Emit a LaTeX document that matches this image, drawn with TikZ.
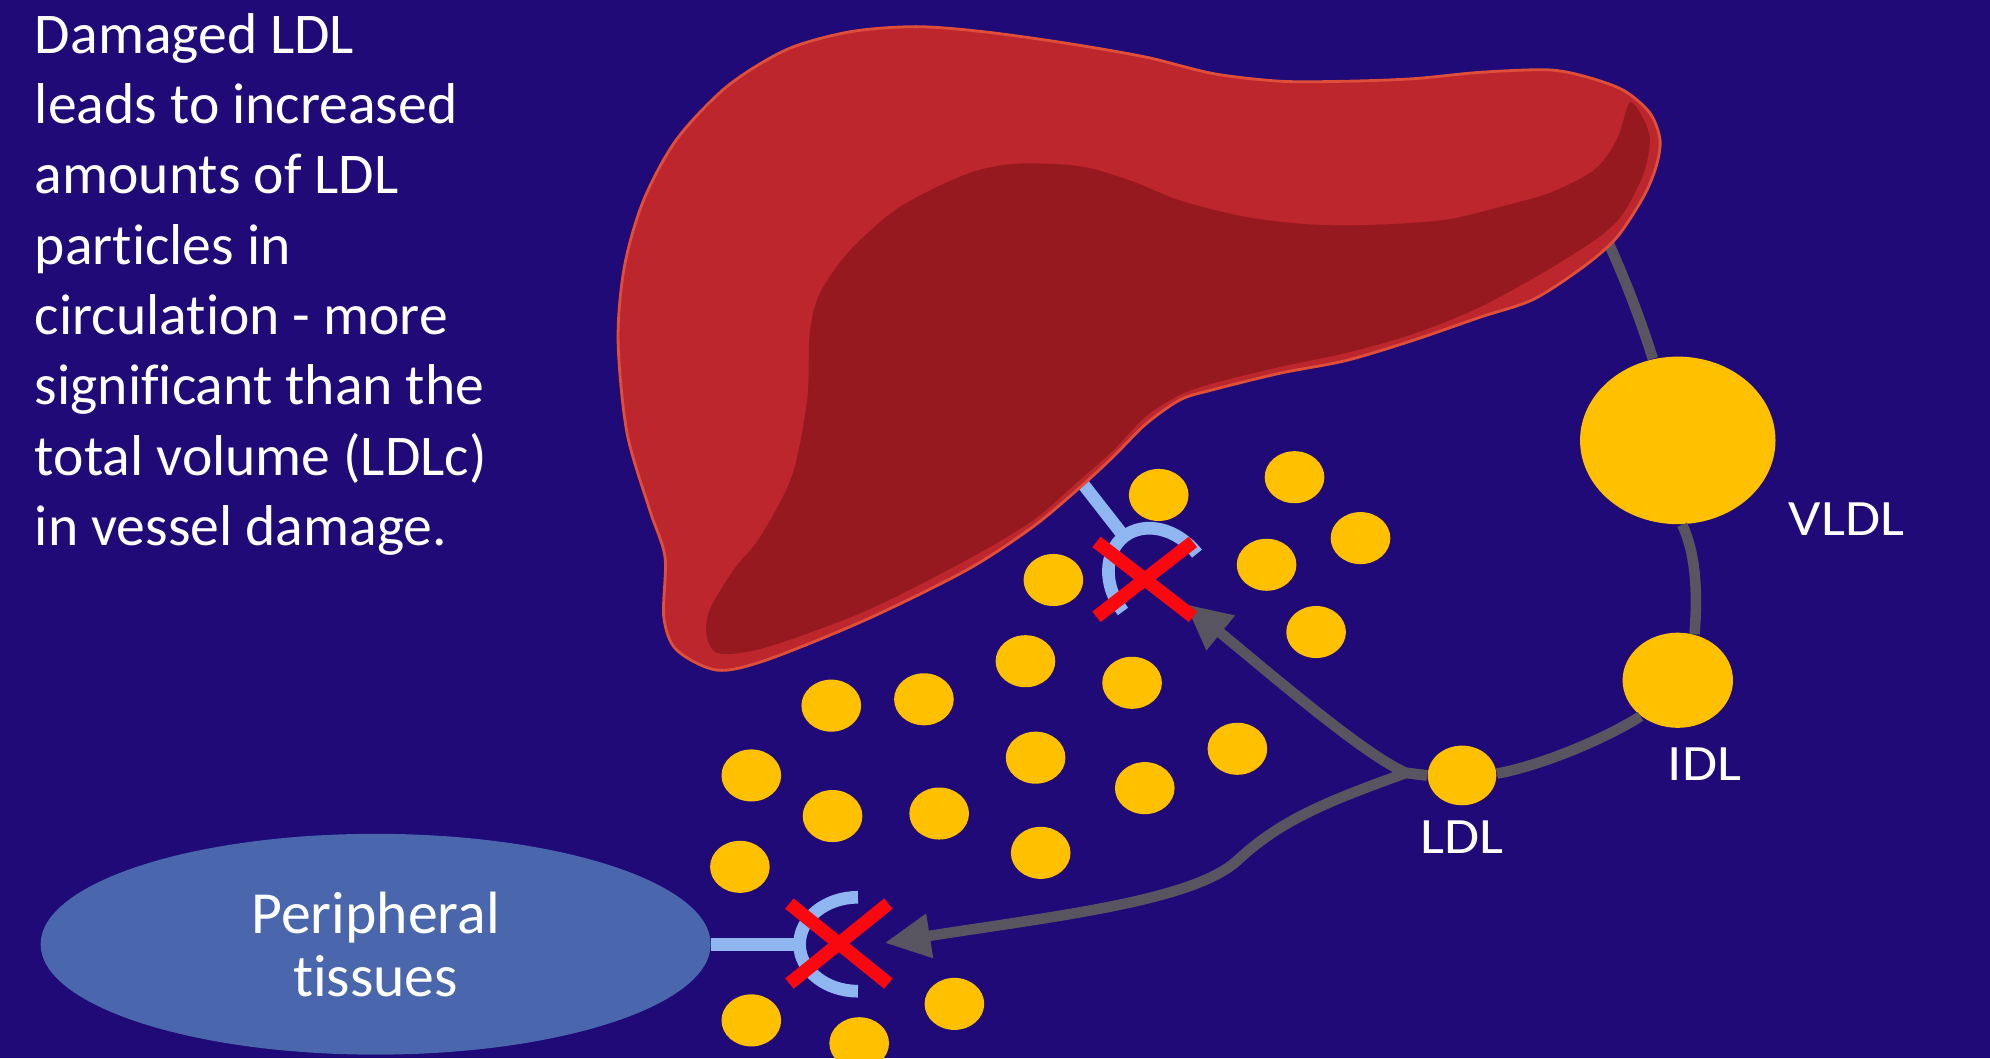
\documentclass[tikz,border=0pt]{standalone}
\usepackage{fontspec}
\setmainfont{Carlito}[Ligatures=NoCommon]
\usetikzlibrary{arrows.meta,shapes.geometric}

\definecolor{slide}{RGB}{31,10,120}
\definecolor{liverlight}{RGB}{190,38,46}
\definecolor{liverdark}{RGB}{150,25,32}
\definecolor{liverrim}{RGB}{222,78,56}
\definecolor{lipid}{RGB}{255,192,0}
\definecolor{pathway}{RGB}{88,84,96}
\definecolor{receptorblue}{RGB}{143,182,240}
\definecolor{tissue}{RGB}{74,102,172}
\definecolor{block}{RGB}{250,8,16}

% one drawing unit
\def\pix{0.01269cm}

\tikzset{
  particle/.style={ellipse, fill=lipid, inner sep=0pt},
  flow/.style={draw=pathway, line width=3pt},
  flowarrow/.style={flow, -{Triangle[length=13pt,width=12pt]}},
  lbl/.style={text=white, font=\fontsize{14.5}{17}\selectfont, xscale=1.12, inner sep=0pt},
  receptor/.style={draw=receptorblue, line width=3.6pt},
  blocked/.style={draw=block, line width=3.8pt},
}

\begin{document}
\begin{tikzpicture}[x=\pix, y=-\pix]
    \fill[slide] (0,0) rectangle (1568,834);
    \useasboundingbox (0,0) rectangle (1568,834);

    % lipoprotein particles
    \node[particle, minimum width=154*\pix, minimum height=132*\pix] (vldl) at (1322,347) {};
    \node[particle, minimum width=87*\pix, minimum height=75*\pix] (idl) at (1322,536) {};
    \node[particle, minimum width=54*\pix, minimum height=47*\pix] (ldl) at (1152,611) {};

    \coordinate (hep-in) at (1255,165);
    \draw[flow] (hep-in) .. controls (1278,212) and (1292,250) .. (vldl.107);
    \draw[flow] (vldl.-87) .. controls (1338,440) and (1337,475) .. (idl.70);
    \draw[flow] (idl.224) .. controls (1265,582) and (1215,603) .. (ldl.3);

    % hepatic receptor
    \begin{scope}[shift={(914,459)}, rotate=-52]
        \coordinate (hep-root) at (-115,0);
        \coordinate (hep-cup) at (-46,0);
        \draw[receptor] (hep-root) -- (hep-cup);
        \draw[receptor] (0,-37) arc[start angle=90, end angle=270, x radius=46*\pix, y radius=37*\pix];
    \end{scope}

    % liver
    \draw[fill=liverlight, draw=liverrim, line width=0.8pt] plot[smooth cycle, tension=0.5] coordinates {
        (487,268) (492,210) (507,158) (533,110) (573,68) (620,39) (670,25) (722,21)
        (775,25) (840,34) (903,45) (956,58) (1009,64) (1061,64) (1114,62) (1166,57)
        (1219,55) (1248,60) (1279,71) (1300,89) (1308,110) (1305,131) (1295,155) (1274,187)
        (1248,210) (1208,236) (1166,250) (1114,268) (1061,284) (1009,294) (956,307) (930,315)
        (903,334) (877,360) (851,384) (814,415) (762,449) (683,488) (604,520) (565,528)
        (533,512) (523,486) (524,439) (512,402) (494,341)};
    \fill[liverdark] plot[smooth cycle, tension=0.5] coordinates {
        (1284,81) (1274,110) (1256,134) (1221,152) (1182,163) (1140,173) (1087,177) (1035,177)
        (982,171) (930,158) (890,142) (851,131) (801,129) (762,137) (709,163) (670,197)
        (646,231) (638,263) (636,315) (624,375) (599,423) (578,449) (559,481) (557,502)
        (567,515) (604,510) (683,481) (762,441) (814,410) (851,378) (877,355) (903,328)
        (930,311) (956,302) (1009,289) (1061,278) (1114,263) (1166,242) (1219,213) (1261,186)
        (1279,168) (1295,137) (1300,110) (1294,92)};

    % free LDL in circulation
    \foreach \x/\y in {913/390, 1020/376, 1072/424, 998/445, 830/457, 1037/498, 808/521,
                       892/538, 975/590, 816/597, 902/621, 728/551, 655/556, 592/611,
                       656/643, 740/641, 820/672, 583/683, 592/804, 677/822, 752/791}
        \fill[lipid] (\x,\y) ellipse [x radius=23.5*\pix, y radius=20.5*\pix];

    % peripheral receptor
    \node[ellipse, fill=tissue, minimum width=528*\pix, minimum height=174*\pix, inner sep=0pt,
          align=center, text=white, font=\fontsize{17}{18}\selectfont] (periph) at (296,744) {Peripheral\\tissues};
    \coordinate (tis-cup) at (630,744);
    \draw[receptor] (periph.east) -- (tis-cup);
    \begin{scope}[shift={(676,744)}]
        \draw[receptor] (0,-37) arc[start angle=90, end angle=270, x radius=46*\pix, y radius=37*\pix];
    \end{scope}

    % uptake paths from LDL
    \coordinate (fork) at (1108,609);
    \coordinate (hep-tip) at (934,476);
    \coordinate (tis-tip) at (697,743);
    \draw[flowarrow] (ldl.west) -- (fork) .. controls (1075,595) and (1000,530) .. (hep-tip);
    \draw[flowarrow] (ldl.west) -- (fork) .. controls (1050,630) and (1010,645) .. (975,678)
        .. controls (940,710) and (830,722) .. (tis-tip);

    % blocked uptake
    \draw[blocked] (864,427) -- (940,486) (864,486) -- (940,427);
    \draw[blocked] (622,712) -- (700,775) (622,775) -- (700,712);

    \node[lbl] (vldl-lbl) at (1455,409) {VLDL};
    \node[lbl] (idl-lbl) at (1343,602) {IDL};
    \node[lbl] (ldl-lbl) at (1152,660) {LDL};

    \node[anchor=north west, align=left, inner sep=0pt, text=white, font=\fontsize{16.4}{20}\selectfont] (note) at (27,10)
        {Damaged LDL\\leads to increased\\amounts of LDL\\particles in\\circulation - more\\significant than the\\total volume (LDLc)\\in vessel damage.};
\end{tikzpicture}
\end{document}
